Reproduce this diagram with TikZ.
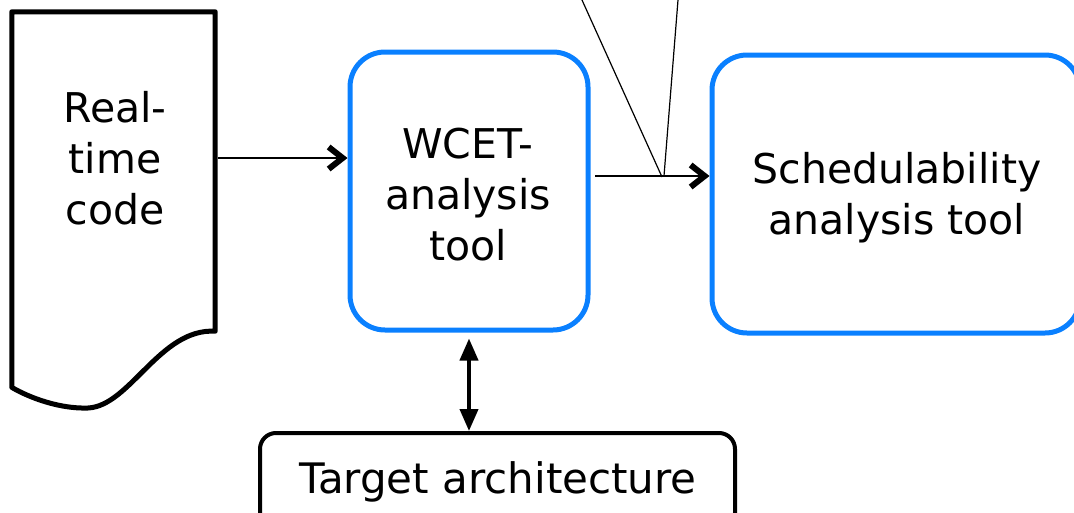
\documentclass[tikz,border=0pt]{standalone}
\usepackage{fontspec}
\setmainfont{DejaVu Sans}
\usetikzlibrary{arrows.meta}
\definecolor{toolblue}{RGB}{10,128,255}
\begin{document}
\begin{tikzpicture}[x=1pt,y=-1pt,
  lbl/.style={font=\fontsize{41}{51}\selectfont, align=center, inner sep=0pt},
  toolbox/.style={draw=toolblue, line width=5pt, rounded corners=35pt, inner sep=0pt},
  thinarrow/.style={line width=1.4pt, -{Straight Barb[length=14pt,width=22pt,line width=6pt]}},
  thickarrow/.style={line width=4pt, {Triangle[length=22pt,width=18pt]}-{Triangle[length=22pt,width=18pt]}}
]
\useasboundingbox (0,0) rectangle (1074,512);
% document shape
\node (doc) [minimum width=203pt, minimum height=319pt, inner sep=0pt] at (113.5,171.5) {};
\draw[line width=5pt, line join=round]
  (doc.south west) ++(0,56) -- (doc.north west) -- (doc.north east) -- (doc.south east)
  .. controls (160,328) and (130,406) .. (88,408)
  .. controls (60,409) and (30,398) .. (12,387.5) -- cycle;
\node (doctext) [lbl] at (115,158) {Real-\\time\\code};
% WCET tool
\node (wcet) [toolbox, minimum width=238pt, minimum height=278pt] at (469,191) {};
\node (wcettext) [lbl] at (468,195) {WCET-\\analysis\\tool};
% Schedulability tool
\node (sched) [toolbox, minimum width=368pt, minimum height=278pt] at (896,194) {};
\node (schedtext) [lbl] at (897,198) {Schedulability\\analysis tool};
% Target architecture
\node (target) [draw, line width=4pt, rounded corners=16pt, minimum width=475pt, minimum height=96pt, inner sep=0pt] at (497.5,481) {};
\node (targettext) [lbl, font=\fontsize{42}{51}\selectfont] at (498,482) {Target architecture};
% connectors
\coordinate (j1) at (662,177);
\coordinate (j2) at (664,176);
\coordinate (t1) at (582,0);
\coordinate (t2) at (678,0);
\coordinate (a0) at (218,158);
\draw[thinarrow] (a0) -- (wcet.west |- doctext);
\coordinate (b0) at (595,176);
\draw[thinarrow] (b0) -- (sched.west |- b0);
\draw[line width=1.2pt] (t1) -- (j1);
\draw[line width=1.2pt] (t2) -- (j2);
\coordinate (c0) at ([yshift=-6pt]wcet.south);
\draw[thickarrow] (c0) -- (c0 |- target.north);
\end{tikzpicture}
\end{document}
